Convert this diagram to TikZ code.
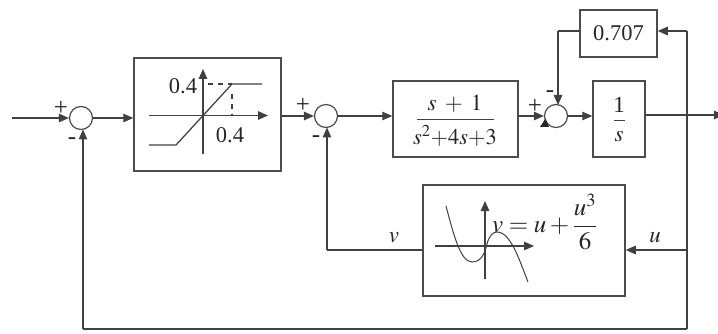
\documentclass[tikz,border=0pt]{standalone}
\usepackage{mathptmx}
\usepackage{fontspec}
\setmainfont{Liberation Serif}
\usetikzlibrary{arrows.meta}
\tikzset{
  wire/.style={draw=black!75,line width=1.25pt},
  arr/.style={wire,-{Triangle[length=10pt,width=8.5pt]}},
  blockbox/.style={draw=black!70,line width=1.5pt,rectangle,inner sep=0pt,fill=none},
  sumnode/.style={draw=black!70,line width=1.2pt,circle,minimum size=23pt,inner sep=0pt},
  lab/.style={inner sep=0pt,font=\fontsize{22.5}{24}\selectfont,text=black!85},
  big/.style={inner sep=0pt,font=\fontsize{23}{25}\selectfont,text=black!85},
  eqn/.style={inner sep=0pt,font=\fontsize{25}{27}\selectfont,text=black!85},
  sign/.style={inner sep=0pt,font=\fontsize{25}{26}\selectfont,text=black!85},
}
\begin{document}
\begin{tikzpicture}[x=1pt,y=-1pt]
\useasboundingbox (0,0) rectangle (718,334);
% blocks
\node[sumnode] (s1) at (81,118) {};
\node[sumnode] (s2) at (326,116) {};
\node[sumnode] (s3) at (556,116) {};
\node[blockbox,minimum width=147pt,minimum height=113pt] (sat) at (207.5,114.5) {};
\node[blockbox,minimum width=125pt,minimum height=76pt] (tf) at (455.5,119) {};
\node[blockbox,minimum width=52pt,minimum height=76pt] (int) at (619,119) {};
\node[blockbox,minimum width=77pt,minimum height=47pt,lab] (gain) at (618.5,33.5) {0.707};
\node[blockbox,minimum width=202pt,minimum height=111pt] (nl) at (524,240.5) {};
% block texts
\node[big] (tf1) at (455,104) {$s\;+\;1$};
\draw[wire,line width=0.9pt] (417,119.5) -- (494,119.5);
\node[lab] (tf2) at (455,136) {$s^{2}{+}4s{+}3$};
\node[big] (i1) at (619,105) {1};
\draw[wire,line width=0.9pt] (614,120.5) -- (625,120.5);
\node[big] (i2) at (619,137) {$s$};
\node[eqn,anchor=west] (eq) at (492,222) {$\displaystyle v=u+\frac{u^{3}}{6}$};
\node[lab] (sa) at (183,86) {0.4};
\node[lab] (sb) at (230,135) {0.4};
% signs
\node[sign] (p1) at (61,108) {+};
\node[sign] (m1) at (72,141) {-};
\node[sign] (p2) at (303,105) {+};
\node[sign] (m2) at (316,139) {-};
\node[sign] (p3) at (535,106) {+};
\node[sign] (m3) at (550,94) {-};
\node[big] (vl) at (394,238) {$v$};
\node[big] (ul) at (655,238) {$u$};
% free ends
\coordinate (in) at (12,118);
\coordinate (out) at (724,115);
\coordinate (ju) at (687,250);
\coordinate (jb) at (687,329);
\coordinate (jt) at (687,31);
\coordinate (bl) at (83,329);
\coordinate (vc) at (327,250);
\coordinate (gc) at (558,31);
% connectors
\draw[arr] (in) -- (s1.west);
\draw[arr] (s1.east) -- (sat.west|-s1);
\draw[arr] (sat.east|-s2) -- (s2.west);
\draw[arr] (s2.east) -- (tf.west|-s2);
\draw[arr] (tf.east|-s3) -- (s3.west);
\draw[arr] (s3.east) -- (int.west|-s3);
\draw[arr] (int.east|-out) -- (out);
\draw[arr] (jt) -- (gain.east|-jt);
\draw[wire] (jb) -- (jt);
\draw[arr] (ju) -- (nl.east|-ju);
\draw[wire] (nl.west|-vc) -- (vc);
\draw[arr] (vc) -- (327,127.5);
\draw[wire] (gain.west|-gc) -- (gc);
\draw[arr] (gc) -- (558,105);
\draw[wire] (jb) -- (bl);
\draw[arr] (bl) -- (83,129.5);
\fill[black!85] (540,127) -- (549,127) -- (545.5,118.5) -- cycle;
% saturation sketch
\draw[arr] (149,115.5) -- (268,115.5);
\draw[arr] (203,154) -- (203,69);
\draw[wire] (149,145) -- (176,145) -- (232,84) -- (262,84);
\draw[wire,dash pattern=on 5pt off 5pt] (208,84) -- (232,84);
\draw[wire,dash pattern=on 5pt off 5pt] (232,94) -- (232,115);
\draw[wire,dash pattern=on 6pt off 5pt] (203,115.5) -- (232,115.5);
% cubic sketch
\draw[arr] (435,246) -- (534,246);
\draw[arr] (485,279) -- (485,201);
\draw[wire,line width=1pt] (446,206) .. controls (453,232) and (460,262) .. (472,262)
  .. controls (482,262) and (485,252) .. (487,244)
  .. controls (489,236) and (493,232) .. (497,232)
  .. controls (511,232) and (520,262) .. (528,282);
\end{tikzpicture}
\end{document}
